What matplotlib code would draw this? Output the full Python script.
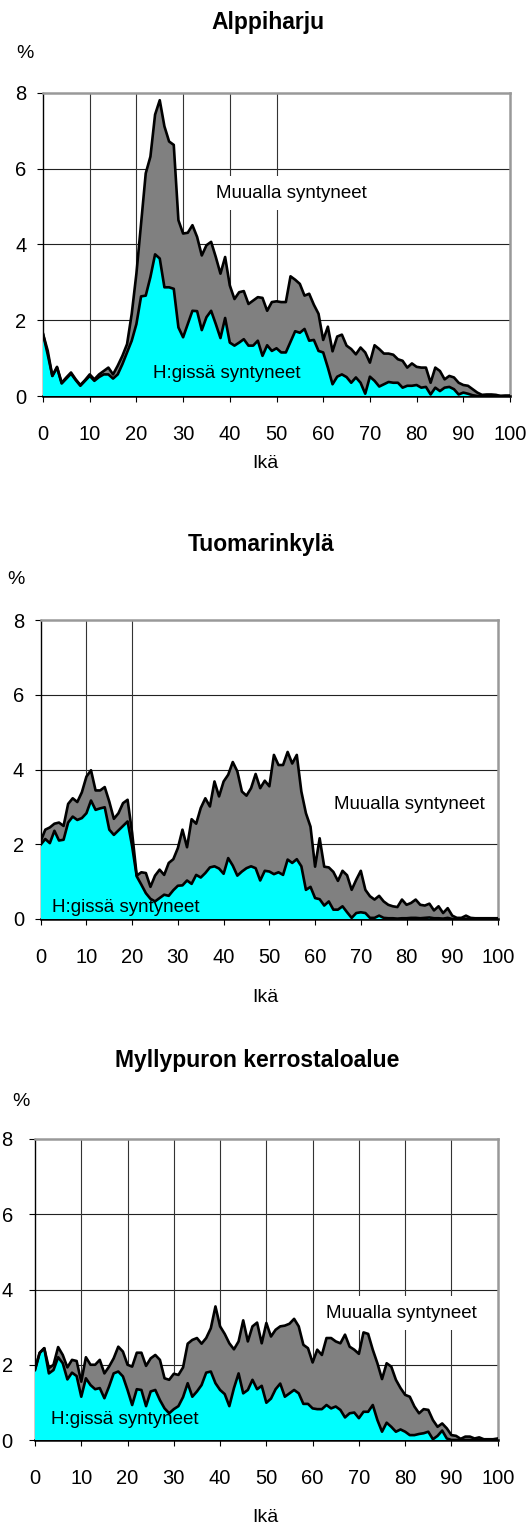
import matplotlib
matplotlib.use("Agg")
import matplotlib.pyplot as plt

plt.rcParams['font.family'] = ['Liberation Sans Narrow', 'Liberation Sans', 'DejaVu Sans']

ages = list(range(0, 101))

# Alppiharju
alp_total = [1.64, 1.2, 0.53, 0.77, 0.35, 0.49, 0.62, 0.44, 0.29, 0.42,
             0.57, 0.44, 0.57, 0.66, 0.75, 0.57, 0.8, 1.06, 1.37, 2.17,
             3.23, 4.55, 5.88, 6.32, 7.43, 7.81, 7.12, 6.72, 6.63, 4.64,
             4.29, 4.31, 4.51, 4.2, 3.71, 3.98, 4.07, 3.67, 3.23, 3.67,
             2.92, 2.56, 2.74, 2.77, 2.43, 2.52, 2.61, 2.59, 2.25, 2.48,
             2.5, 2.48, 2.48, 3.16, 3.07, 2.96, 2.65, 2.7, 2.41, 2.17,
             1.48, 1.83, 1.18, 1.57, 1.62, 1.33, 1.24, 1.1, 1.28, 1.15,
             0.88, 1.34, 1.24, 1.12, 1.12, 1.09, 0.97, 0.93, 0.75, 0.86,
             0.77, 0.75, 0.75, 0.35, 0.75, 0.66, 0.44, 0.53, 0.49, 0.35,
             0.29, 0.27, 0.18, 0.09, 0.03, 0.04, 0.04, 0.03, 0.0, 0.01, 0.01]
alp_hki = [1.64, 1.1, 0.53, 0.75, 0.33, 0.46, 0.59, 0.42, 0.27, 0.4,
           0.53, 0.4, 0.5, 0.57, 0.57, 0.46, 0.57, 0.84, 1.15, 1.46,
           1.9, 2.63, 2.65, 3.14, 3.74, 3.63, 2.87, 2.87, 2.83, 1.81,
           1.55, 1.9, 2.25, 2.24, 1.74, 2.08, 2.25, 1.9, 1.53, 2.06,
           1.41, 1.33, 1.41, 1.5, 1.33, 1.33, 1.46, 1.06, 1.34, 1.19,
           1.26, 1.15, 1.15, 1.43, 1.71, 1.67, 1.77, 1.46, 1.48, 1.19,
           1.15, 0.75, 0.31, 0.51, 0.57, 0.5, 0.35, 0.49, 0.35, 0.06,
           0.51, 0.4, 0.25, 0.31, 0.37, 0.35, 0.35, 0.22, 0.27, 0.27,
           0.29, 0.22, 0.24, 0.04, 0.22, 0.13, 0.22, 0.24, 0.18, 0.04,
           0.09, 0.06, 0.02, 0.0, 0.0, 0.0, 0.0, 0.0, 0.0, 0.0, 0.0]

# Tuomarinkylä
tuo_total = [2.08, 2.39, 2.45, 2.55, 2.58, 2.49, 3.08, 3.23, 3.13, 3.39,
             3.81, 3.98, 3.44, 3.44, 3.53, 3.14, 2.68, 2.83, 3.1, 3.19,
             2.3, 1.16, 1.25, 1.23, 0.86, 1.16, 1.32, 1.18, 1.5, 1.6,
             1.9, 2.39, 1.92, 2.67, 2.55, 2.97, 3.23, 3.01, 3.68, 3.28,
             3.68, 3.86, 4.2, 3.95, 3.41, 3.3, 3.5, 3.88, 3.5, 3.7,
             3.55, 4.39, 4.12, 4.12, 4.47, 4.16, 4.39, 3.41, 2.83, 2.47,
             1.4, 2.16, 1.4, 1.38, 1.26, 1.02, 1.29, 1.17, 0.78, 1.05,
             1.29, 0.78, 0.61, 0.52, 0.62, 0.47, 0.38, 0.34, 0.32, 0.52,
             0.38, 0.43, 0.52, 0.38, 0.36, 0.41, 0.23, 0.34, 0.16, 0.29,
             0.09, 0.03, 0.03, 0.09, 0.03, 0.02, 0.02, 0.02, 0.02, 0.02, 0.02]
tuo_hki = [1.99, 2.14, 2.03, 2.36, 2.1, 2.12, 2.58, 2.74, 2.65, 2.7,
           2.83, 3.17, 2.92, 2.96, 2.99, 2.39, 2.25, 2.37, 2.49, 2.61,
           1.94, 1.14, 0.92, 0.69, 0.54, 0.47, 0.56, 0.65, 0.62, 0.77,
           0.89, 0.9, 1.03, 0.94, 1.18, 1.11, 1.23, 1.38, 1.41, 1.35,
           1.21, 1.63, 1.43, 1.16, 1.27, 1.36, 1.41, 1.36, 1.03, 1.29,
           1.27, 1.2, 1.25, 1.18, 1.59, 1.5, 1.6, 1.41, 0.78, 0.86,
           0.56, 0.53, 0.36, 0.47, 0.25, 0.25, 0.34, 0.18, 0.03, 0.16,
           0.18, 0.16, 0.03, 0.03, 0.09, 0.03, 0.02, 0.02, 0.01, 0.02,
           0.02, 0.03, 0.03, 0.02, 0.03, 0.04, 0.02, 0.02, 0.01, 0.03,
           0.0, 0.0, 0.0, 0.0, 0.0, 0.0, 0.0, 0.0, 0.0, 0.0, 0.0]

# Myllypuron kerrostaloalue
myl_total = [1.88, 2.32, 2.44, 1.91, 2.0, 2.47, 2.26, 1.93, 2.13, 2.1,
             1.55, 2.2, 2.0, 2.0, 2.13, 1.77, 1.95, 2.17, 2.48, 2.35,
             2.0, 1.95, 2.32, 2.32, 1.97, 2.17, 2.26, 2.13, 1.64, 1.6,
             1.76, 1.73, 1.93, 2.56, 2.66, 2.71, 2.56, 2.71, 2.97, 3.55,
             3.02, 2.82, 2.57, 2.41, 2.62, 3.18, 2.62, 3.02, 3.12, 2.57,
             3.11, 2.75, 2.93, 3.02, 3.04, 3.09, 3.22, 3.02, 2.53, 2.44,
             2.06, 2.4, 2.26, 2.71, 2.71, 2.62, 2.57, 2.8, 2.48, 2.4,
             2.29, 2.86, 2.82, 2.4, 2.04, 1.62, 2.04, 1.95, 1.6, 1.38,
             1.2, 1.15, 0.89, 0.71, 0.82, 0.8, 0.53, 0.35, 0.44, 0.31,
             0.13, 0.11, 0.03, 0.09, 0.09, 0.04, 0.07, 0.02, 0.02, 0.02, 0.04]
myl_hki = [1.86, 2.31, 2.44, 1.77, 1.86, 2.2, 2.04, 1.61, 1.79, 1.7,
           1.15, 1.64, 1.46, 1.35, 1.38, 1.11, 1.42, 1.77, 1.82, 1.69,
           1.33, 0.93, 1.35, 1.33, 0.9, 1.29, 1.33, 1.06, 0.84, 0.71,
           0.82, 0.9, 1.14, 1.51, 1.15, 1.29, 1.46, 1.79, 1.82, 1.51,
           1.33, 1.22, 0.9, 1.38, 1.77, 1.24, 1.33, 1.6, 1.35, 1.44,
           0.99, 1.1, 1.35, 1.5, 1.15, 1.24, 1.33, 1.24, 0.96, 0.96,
           0.84, 0.82, 0.82, 0.93, 0.84, 0.89, 0.8, 0.6, 0.71, 0.73,
           0.58, 0.75, 0.75, 0.93, 0.53, 0.22, 0.46, 0.35, 0.22, 0.28,
           0.22, 0.13, 0.13, 0.16, 0.18, 0.22, 0.02, 0.11, 0.25, 0.04,
           0.0, 0.0, 0.0, 0.0, 0.0, 0.0, 0.0, 0.0, 0.0, 0.0, 0.0]

titles = ["Alppiharju", "Tuomarinkylä", "Myllypuron kerrostaloalue"]
label_hki = "H:gissä syntyneet"
label_muu = "Muualla syntyneet"
x_ticks = [0, 10, 20, 30, 40, 50, 60, 70, 80, 90, 100]
y_ticks = [0, 2, 4, 6, 8]

W, H = 529, 1529
fig = plt.figure(figsize=(W / 100, H / 100), dpi=100)


def px_rect(l, r, t, b):
    return [l / W, 1 - b / H, (r - l) / W, (b - t) / H]


panels = [
    dict(total=alp_total, hki=alp_hki, rect=px_rect(43, 510, 93, 396),
         vgrid=[10, 20, 30, 40, 50], title=(268, 22), pct=(25, 54),
         ika=(265, 464), muu=(291, 193), hkil=(227, 373), ypad=8),
    dict(total=tuo_total, hki=tuo_hki, rect=px_rect(40.7, 498, 620, 919),
         vgrid=[10, 20], title=(261, 544), pct=(16, 579),
         ika=(265, 998), muu=(409, 804), hkil=(126, 907), ypad=8),
    dict(total=myl_total, hki=myl_hki, rect=px_rect(35, 497.7, 1139, 1440),
         vgrid=[10, 20, 30, 40, 50, 60, 70, 80, 90], title=(257, 1061), pct=(21, 1101),
         ika=(265, 1518), muu=(401, 1313), hkil=(125, 1419), ypad=12),
]

for p, title in zip(panels, titles):
    ax = fig.add_axes(p["rect"])
    ax.set_xlim(0, 100)
    ax.set_ylim(0, 8)
    ax.fill_between(ages, 0, p["hki"], facecolor="#00FFFF", edgecolor="none", zorder=4)
    ax.fill_between(ages, p["hki"], p["total"], facecolor="#808080", edgecolor="none", zorder=4)
    ax.plot(ages, p["total"], color="black", lw=1.9, zorder=5)
    ax.plot(ages, p["hki"], color="black", lw=1.9, zorder=5)
    for yv in [2, 4, 6]:
        ax.axhline(yv, color="#222222", lw=0.8, zorder=1)
    for xv in p["vgrid"]:
        ax.axvline(xv, color="#333333", lw=0.8, zorder=1)
    ax.set_xticks(x_ticks)
    ax.set_yticks(y_ticks)
    ax.tick_params(axis="x", direction="out", length=4, width=0.8, labelsize=14.5, pad=17)
    ax.tick_params(axis="y", direction="out", length=4, width=0.8, labelsize=14.5, pad=p["ypad"])
    for s in ["left", "bottom"]:
        ax.spines[s].set_color("black")
        ax.spines[s].set_linewidth(1.0)
    ax.spines["bottom"].set_linewidth(1.8)
    for s in ["top", "right"]:
        ax.spines[s].set_color("#999999")
        ax.spines[s].set_linewidth(1.8)
    fig.text(p["muu"][0] / W, 1 - p["muu"][1] / H, label_muu, fontsize=13.5,
             ha="center", va="center", zorder=3,
             bbox=dict(boxstyle="square,pad=0.45", facecolor="white", edgecolor="none"))
    fig.text(p["hkil"][0] / W, 1 - p["hkil"][1] / H, label_hki, fontsize=13.5,
             ha="center", va="center", zorder=10)
    fig.text(p["title"][0] / W, 1 - p["title"][1] / H, title, fontsize=16.5,
             fontweight="bold", ha="center", va="center")
    fig.text(p["pct"][0] / W, 1 - p["pct"][1] / H, "%", fontsize=14,
             ha="center", va="center")
    fig.text(p["ika"][0] / W, 1 - p["ika"][1] / H, "Ikä", fontsize=14,
             ha="center", va="center")

fig.savefig("out.png", dpi=100, facecolor="white")
